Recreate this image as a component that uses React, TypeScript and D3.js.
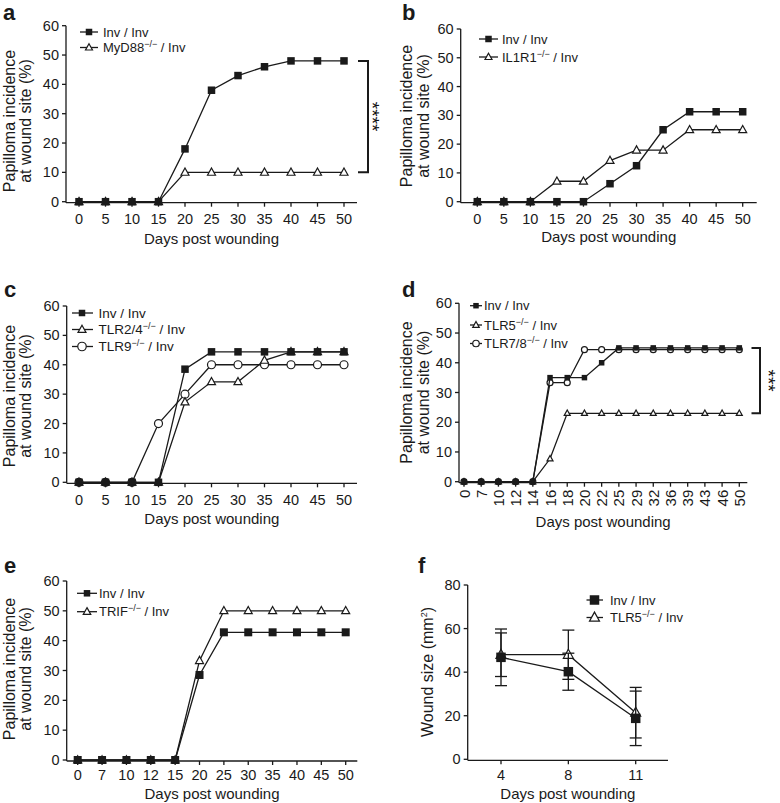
import React from 'react';
import * as d3 from 'd3';

const FONT = '"Liberation Sans", Arial, Helvetica, sans-serif';
const INK = '#1a1a1a';

// ---------- data ----------
const daysABC = [0, 5, 10, 15, 20, 25, 30, 35, 40, 45, 50];
const aInv = [0, 0, 0, 0, 18, 38, 43, 46, 48, 48, 48];
const aMyD88 = [0, 0, 0, 0, 10, 10, 10, 10, 10, 10, 10];
const bInv = [0, 0, 0, 0, 0, 6.25, 12.5, 25, 31.25, 31.25, 31.25];
const bIL1R1 = [0, 0, 0, 7.1, 7.1, 14.3, 17.9, 17.9, 25, 25, 25];
const cInv = [0, 0, 0, 0, 38.5, 44.4, 44.4, 44.4, 44.4, 44.4, 44.4];
const cTLR24 = [0, 0, 0, 0, 27.3, 34.2, 34.2, 41.5, 44.4, 44.4, 44.4];
const cTLR9 = [0, 0, 0, 20, 30, 40, 40, 40, 40, 40, 40];
const daysD = [0, 7, 10, 12, 14, 16, 18, 20, 22, 25, 29, 32, 36, 39, 43, 46, 50];
const dInv = [0, 0, 0, 0, 0, 35, 35, 35, 40, 45, 45, 45, 45, 45, 45, 45, 45];
const dTLR5 = [0, 0, 0, 0, 0, 7.7, 23, 23, 23, 23, 23, 23, 23, 23, 23, 23, 23];
const dTLR78 = [0, 0, 0, 0, 0, 33.3, 33.3, 44.4, 44.4, 44.4, 44.4, 44.4, 44.4, 44.4, 44.4, 44.4, 44.4];
const daysE = [0, 7, 10, 12, 15, 20, 25, 30, 35, 40, 45, 50];
const eInv = [0, 0, 0, 0, 0, 28.5, 42.8, 42.8, 42.8, 42.8, 42.8, 42.8];
const eTRIF = [0, 0, 0, 0, 0, 33.3, 50, 50, 50, 50, 50, 50];
const daysF = [4, 8, 11];
const fInvMean = [46.8, 40.2, 18.8];
const fInvErr = [13, 8.5, 12.5];
const fTLR5Mean = [48, 48, 21.4];
const fTLR5Err = [10, 11.3, 11.6];
const pctTicks = [0, 10, 20, 30, 40, 50, 60];
const fTicks = [0, 20, 40, 60, 80];

type MarkerType = 'square' | 'triangle' | 'circle';

function Marker({ type, x, y, s }: { type: MarkerType; x: number; y: number; s: number }) {
  if (type === 'square') {
    return <rect x={x - s / 2} y={y - s / 2} width={s} height={s} fill={INK} />;
  }
  if (type === 'circle') {
    return <circle cx={x} cy={y} r={s / 2} fill="#fff" stroke={INK} strokeWidth={1.2} />;
  }
  const h = s * 0.9;
  const p = `M${x},${y - h * 0.6}L${x + s / 2},${y + h * 0.4}L${x - s / 2},${y + h * 0.4}Z`;
  return <path d={p} fill="#fff" stroke={INK} strokeWidth={1.2} strokeLinejoin="miter" />;
}

const sup = (s: string, shift = 5) => (
  <tspan dy={-shift} fontSize={9}>
    {s}
  </tspan>
);

type Series = { values: number[]; marker: MarkerType; size: number; errors?: number[] };
type LegendRow = { y: number; marker: MarkerType; size: number; label: React.ReactNode };

type PanelProps = {
  ax: number;
  yTop: number;
  y0: number;
  xFirst: number;
  xLast: number;
  xEnd: number;
  cats: number[];
  yMax: number;
  yTicks: number[];
  series: Series[];
  legend: { lx0: number; lx1: number; mx: number; tx: number; rows: LegendRow[]; fs?: number };
  letter: string;
  letterX: number;
  letterY: number;
  ylab: React.ReactNode[];
  ylabX: number[];
  ylabY: number;
  titleY: number;
  tickY?: number;
  rotTicks?: boolean;
  bracket?: { x: number; x0: number; a: number; b: number; stars: string; sx: number };
};

function Panel(p: PanelProps) {
  const x = d3.scalePoint<string>().domain(p.cats.map(String)).range([p.xFirst, p.xLast]);
  const y = d3.scaleLinear().domain([0, p.yMax]).range([p.y0, p.yTop]);
  const line = d3
    .line<number>()
    .x((_, i) => x(String(p.cats[i])) as number)
    .y((d) => y(d));
  const axisY = p.y0 + 1;
  const midX = (p.ax + p.xEnd) / 2;
  return (
    <g fontFamily={FONT} fill={INK}>
      <text x={p.letterX} y={p.letterY} fontSize={22} fontWeight="bold">
        {p.letter}
      </text>
      {/* axes */}
      <line x1={p.ax} x2={p.xEnd} y1={axisY} y2={axisY} stroke={INK} strokeWidth={1.3} />
      <line x1={p.ax} x2={p.ax} y1={y(p.yMax)} y2={axisY} stroke={INK} strokeWidth={1.3} />
      {p.yTicks.map((t) => (
        <g key={'y' + t}>
          <line x1={p.ax - 4} x2={p.ax} y1={y(t)} y2={y(t)} stroke={INK} strokeWidth={1.3} />
          <text x={p.ax - 7} y={y(t)} fontSize={14.5} textAnchor="end" dominantBaseline="central">
            {t}
          </text>
        </g>
      ))}
      {p.cats.map((c) => {
        const cx = x(String(c)) as number;
        return (
          <g key={'x' + c}>
            <line x1={cx} x2={cx} y1={axisY} y2={axisY + 4} stroke={INK} strokeWidth={1.3} />
            {p.rotTicks ? (
              <text
                transform={`translate(${cx},${axisY + 7}) rotate(-90)`}
                fontSize={15}
                textAnchor="end"
                dominantBaseline="central"
              >
                {c}
              </text>
            ) : (
              <text x={cx} y={p.tickY ?? axisY + 22} fontSize={14.5} textAnchor="middle">
                {c}
              </text>
            )}
          </g>
        );
      })}
      <text x={midX} y={p.titleY} fontSize={15} textAnchor="middle">
        Days post wounding
      </text>
      {p.ylab.map((l, i) => (
        <text
          key={'yl' + i}
          transform={`translate(${p.ylabX[i]},${p.ylabY}) rotate(-90)`}
          fontSize={16}
          textAnchor="middle"
        >
          {l}
        </text>
      ))}
      {/* series */}
      {p.series.map((s, si) => (
        <g key={'s' + si}>
          <path d={line(s.values) || ''} fill="none" stroke={INK} strokeWidth={1.3} />
          {s.errors &&
            s.values.map((v, i) => {
              const cx = x(String(p.cats[i])) as number;
              const e = s.errors![i];
              return (
                <g key={'e' + i} stroke={INK} strokeWidth={1.3}>
                  <line x1={cx} x2={cx} y1={y(v - e)} y2={y(v + e)} />
                  <line x1={cx - 6} x2={cx + 6} y1={y(v - e)} y2={y(v - e)} />
                  <line x1={cx - 6} x2={cx + 6} y1={y(v + e)} y2={y(v + e)} />
                </g>
              );
            })}
          {s.values.map((v, i) => (
            <Marker key={'m' + i} type={s.marker} x={x(String(p.cats[i])) as number} y={y(v)} s={s.size} />
          ))}
        </g>
      ))}
      {/* legend */}
      {p.legend.rows.map((r, i) => (
        <g key={'lg' + i}>
          <line x1={p.legend.lx0} x2={p.legend.lx1} y1={r.y} y2={r.y} stroke={INK} strokeWidth={1.3} />
          <Marker type={r.marker} x={p.legend.mx} y={r.y} s={r.size} />
          <text x={p.legend.tx} y={r.y} dy="0.36em" fontSize={p.legend.fs || 13}>
            {r.label}
          </text>
        </g>
      ))}
      {p.bracket && (
        <g>
          <path
            d={`M${p.bracket.x0},${y(p.bracket.a)}H${p.bracket.x}V${y(p.bracket.b)}H${p.bracket.x0}`}
            fill="none"
            stroke={INK}
            strokeWidth={2}
          />
          <text
            transform={`translate(${p.bracket.sx},${(y(p.bracket.a) + y(p.bracket.b)) / 2}) rotate(90)`}
            fontSize={19}
            textAnchor="middle"
            fill="#111"
          >
            {p.bracket.stars}
          </text>
        </g>
      )}
    </g>
  );
}

const ylabPct = [<>Papilloma incidence</>, <>at wound site (%)</>];

export default function App() {
  return (
    <svg
      width={780}
      height={803}
      viewBox="0 0 780 803"
      style={{ position: 'absolute', left: 0, top: 0, background: '#fff' }}
    >
      <rect width={780} height={803} fill="#fff" />
      {/* a */}
      <Panel
        ax={66}
        yTop={25.7}
        y0={201.7}
        xFirst={79}
        xLast={344}
        xEnd={357}
        cats={daysABC}
        yMax={60}
        yTicks={pctTicks}
        series={[
          { values: aMyD88, marker: 'triangle', size: 8 },
          { values: aInv, marker: 'square', size: 7.5 },
        ]}
        legend={{
          lx0: 80,
          lx1: 98,
          mx: 89,
          tx: 103,
          rows: [
            { y: 32, marker: 'square', size: 6.5, label: 'Inv / Inv' },
            { y: 47.5, marker: 'triangle', size: 7, label: <>MyD88{sup('−/−')}<tspan dy={5}> / Inv</tspan></> },
          ],
        }}
        letter="a"
        letterX={3}
        letterY={20}
        ylab={ylabPct}
        ylabX={[14.5, 31]}
        ylabY={121}
        titleY={244}
        tickY={224}
        bracket={{ x: 368, x0: 358, a: 48, b: 10, stars: '****', sx: 366 }}
      />
      {/* b */}
      <Panel
        ax={460.7}
        yTop={29}
        y0={201.7}
        xFirst={477.3}
        xLast={742.7}
        xEnd={756.7}
        cats={daysABC}
        yMax={60}
        yTicks={pctTicks}
        series={[
          { values: bIL1R1, marker: 'triangle', size: 8 },
          { values: bInv, marker: 'square', size: 7.5 },
        ]}
        legend={{
          lx0: 479,
          lx1: 498,
          mx: 488.5,
          tx: 502,
          rows: [
            { y: 39, marker: 'square', size: 6.5, label: 'Inv / Inv' },
            { y: 57, marker: 'triangle', size: 7, label: <>IL1R1{sup('−/−')}<tspan dy={5}> / Inv</tspan></> },
          ],
        }}
        letter="b"
        letterX={402}
        letterY={20}
        ylab={ylabPct}
        ylabX={[412, 429]}
        ylabY={116}
        titleY={242}
        tickY={224}
      />
      {/* c */}
      <Panel
        ax={66.7}
        yTop={306}
        y0={482.3}
        xFirst={79}
        xLast={344}
        xEnd={357}
        cats={daysABC}
        yMax={60}
        yTicks={pctTicks}
        series={[
          { values: cTLR9, marker: 'circle', size: 8 },
          { values: cTLR24, marker: 'triangle', size: 8 },
          { values: cInv, marker: 'square', size: 7.5 },
        ]}
        legend={{
          lx0: 72,
          lx1: 93,
          mx: 82,
          tx: 98.5,
          rows: [
            { y: 313, marker: 'square', size: 6.5, label: 'Inv / Inv' },
            { y: 329.5, marker: 'triangle', size: 8, label: <>TLR2/4{sup('−/−')}<tspan dy={5}> / Inv</tspan></> },
            { y: 346.5, marker: 'circle', size: 8.5, label: <>TLR9{sup('−/−')}<tspan dy={5}> / Inv</tspan></> },
          ],
          fs: 13.5,
        }}
        letter="c"
        letterX={4}
        letterY={296.7}
        ylab={ylabPct}
        ylabX={[14.5, 31]}
        ylabY={396}
        titleY={524}
        tickY={504.5}
      />
      {/* d */}
      <Panel
        ax={459}
        yTop={303.3}
        y0={481.7}
        xFirst={464}
        xLast={739.3}
        xEnd={747.3}
        cats={daysD}
        yMax={60}
        yTicks={pctTicks}
        series={[
          { values: dTLR5, marker: 'triangle', size: 6 },
          { values: dTLR78, marker: 'circle', size: 6 },
          { values: dInv, marker: 'square', size: 5.5 },
        ]}
        legend={{
          lx0: 470,
          lx1: 482,
          mx: 476,
          tx: 484,
          rows: [
            { y: 305.7, marker: 'square', size: 5.5, label: 'Inv / Inv' },
            { y: 325, marker: 'triangle', size: 6.5, label: <>TLR5{sup('−/−')}<tspan dy={5}> / Inv</tspan></> },
            { y: 343.5, marker: 'circle', size: 6.5, label: <>TLR7/8{sup('−/−')}<tspan dy={5}> / Inv</tspan></> },
          ],
        }}
        letter="d"
        letterX={402}
        letterY={296.7}
        ylab={ylabPct}
        ylabX={[412, 428.5]}
        ylabY={392.5}
        titleY={527}
        rotTicks
        bracket={{ x: 760, x0: 751.5, a: 45, b: 23, stars: '***', sx: 762 }}
      />
      {/* e */}
      <Panel
        ax={66.7}
        yTop={581}
        y0={760}
        xFirst={77.7}
        xLast={345.7}
        xEnd={357.3}
        cats={daysE}
        yMax={60}
        yTicks={pctTicks}
        series={[
          { values: eTRIF, marker: 'triangle', size: 8 },
          { values: eInv, marker: 'square', size: 8 },
        ]}
        legend={{
          lx0: 77,
          lx1: 97,
          mx: 87,
          tx: 99,
          rows: [
            { y: 593.3, marker: 'square', size: 6.5, label: 'Inv / Inv' },
            { y: 611.7, marker: 'triangle', size: 7.5, label: <>TRIF{sup('−/−')}<tspan dy={5}> / Inv</tspan></> },
          ],
        }}
        letter="e"
        letterX={4}
        letterY={573.3}
        ylab={ylabPct}
        ylabX={[14.5, 31]}
        ylabY={669}
        titleY={798.5}
        tickY={779.5}
      />
      {/* f */}
      <Panel
        ax={467.7}
        yTop={585}
        y0={759.3}
        xFirst={501}
        xLast={635.7}
        xEnd={668}
        cats={daysF}
        yMax={80}
        yTicks={fTicks}
        series={[
          { values: fTLR5Mean, marker: 'triangle', size: 10, errors: fTLR5Err },
          { values: fInvMean, marker: 'square', size: 9.5, errors: fInvErr },
        ]}
        legend={{
          lx0: 586.5,
          lx1: 603,
          mx: 594.5,
          tx: 610,
          rows: [
            { y: 600, marker: 'square', size: 9.5, label: 'Inv / Inv' },
            { y: 617.5, marker: 'triangle', size: 10, label: <>TLR5{sup('−/−')}<tspan dy={5}> / Inv</tspan></> },
          ],
        }}
        letter="f"
        letterX={418}
        letterY={573.3}
        ylab={[<>Wound size (mm{sup('2', 6)}<tspan dy={6}>)</tspan></>]}
        ylabX={[432.5]}
        ylabY={672}
        titleY={798.5}
        tickY={780}
      />
    </svg>
  );
}
